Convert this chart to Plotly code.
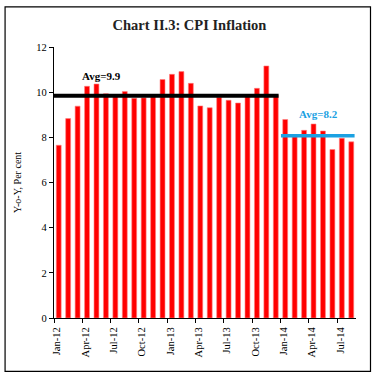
import plotly.graph_objects as go

months = ["Jan-12","Feb-12","Mar-12","Apr-12","May-12","Jun-12","Jul-12","Aug-12","Sep-12","Oct-12","Nov-12","Dec-12",
          "Jan-13","Feb-13","Mar-13","Apr-13","May-13","Jun-13","Jul-13","Aug-13","Sep-13","Oct-13","Nov-13","Dec-13",
          "Jan-14","Feb-14","Mar-14","Apr-14","May-14","Jun-14","Jul-14","Aug-14"]
cpi = [7.65, 8.83, 9.38, 10.26, 10.36, 9.93, 9.84, 10.03, 9.73, 9.75, 9.80, 10.56,
       10.79, 10.91, 10.39, 9.39, 9.31, 9.78, 9.64, 9.52, 9.84, 10.17, 11.16, 9.87,
       8.79, 8.03, 8.31, 8.59, 8.28, 7.46, 7.96, 7.80]
avg1_label, avg1_level = "Avg=9.9", 9.84
avg2_label, avg2_level = "Avg=8.2", 8.07
tick_labels = months[::3]

FONT = "Liberation Serif"
n = len(months)
xs = [i + 0.5 for i in range(n)]

fig = go.Figure()
fig.add_trace(go.Bar(x=xs, y=cpi, marker=dict(color="#FF0000", line=dict(width=0.6, color="#FF8080")),
                     width=0.52, showlegend=False))
fig.add_trace(go.Scatter(x=[0, 23.8], y=[avg1_level, avg1_level], mode="lines",
                         line=dict(color="black", width=4), showlegend=False))
fig.add_trace(go.Scatter(x=[24.05, 31.85], y=[avg2_level, avg2_level], mode="lines",
                         line=dict(color="#1BA1E2", width=3.5), showlegend=False))

fig.add_annotation(x=5, y=avg1_level, yshift=20, text="<b>" + avg1_label + "</b>", showarrow=False,
                   font=dict(family=FONT, size=11, color="black"))
fig.add_annotation(x=28, y=avg2_level, yshift=22, text="<b>" + avg2_label + "</b>", showarrow=False,
                   font=dict(family=FONT, size=11, color="#1BA1E2"))

fig.update_layout(
    width=379, height=384,
    margin=dict(l=54, r=23, t=47, b=66),
    paper_bgcolor="white", plot_bgcolor="white",
    title=dict(text="<b>Chart II.3: CPI Inflation</b>", x=0.5, xanchor="center", y=1 - 25/384, yanchor="middle",
               font=dict(family=FONT, size=14.5, color="#222")),
    font=dict(family=FONT, size=10, color="black"),
    shapes=[dict(type="rect", xref="paper", yref="paper", x0=-0.162, x1=1.048, y0=-0.197, y1=1.148,
                 line=dict(color="black", width=1.2))],
    xaxis=dict(range=[0, n], tickvals=list(range(0, n, 3)), ticktext=tick_labels, tickangle=-90,
               ticks="outside", ticklen=4, tickcolor="black", showline=True, linecolor="black", linewidth=1.2,
               showgrid=False, zeroline=False, ticklabelshift=3, tickfont=dict(family=FONT, size=10.5)),
    yaxis=dict(range=[0, 12], tickvals=list(range(0, 13, 2)), ticks="outside", ticklen=4, tickcolor="black",
               showline=True, linecolor="black", linewidth=1.2, showgrid=False, zeroline=False,
               title=dict(text="Y-o-Y, Per cent", font=dict(family=FONT, size=10), standoff=12),
               tickfont=dict(family=FONT, size=10.5)),
)
fig.write_html("out.html", config={"displayModeBar": False},
               post_script="document.body.style.margin='0';document.body.style.padding='0';")
